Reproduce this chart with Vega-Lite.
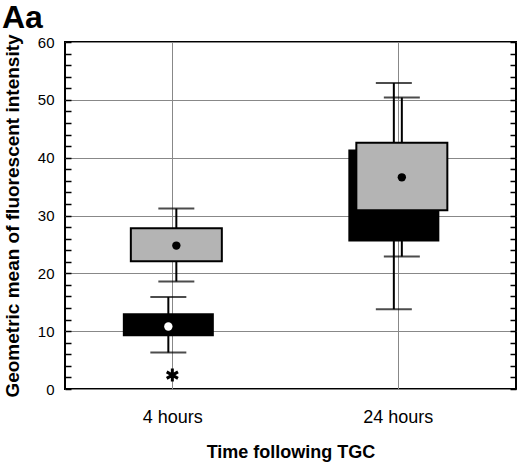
{
  "$schema": "https://vega.github.io/schema/vega-lite/v6.json",
  "width": 451,
  "height": 347,
  "autosize": "none",
  "padding": {"left": 65, "top": 42, "right": 4, "bottom": 76},
  "title": {
    "text": "Aa",
    "anchor": "start",
    "frame": "group",
    "dx": -63,
    "dy": 26,
    "fontSize": 32,
    "fontWeight": "bold",
    "color": "black",
    "baseline": "alphabetic",
    "offset": 0
  },
  "data": {
    "values": [
      {"time": "4 hours", "series": "Series 1", "lo": 6.3, "q1": 9.1, "q3": 13.1, "hi": 15.9, "mean": 10.8, "outlier": 2.4},
      {"time": "4 hours", "series": "Series 2", "lo": 18.6, "q1": 22.1, "q3": 27.8, "hi": 31.2, "mean": 24.8, "outlier": null},
      {"time": "24 hours", "series": "Series 1", "lo": 13.8, "q1": 25.5, "q3": 41.4, "hi": 52.9, "mean": 33.5, "outlier": null},
      {"time": "24 hours", "series": "Series 2", "lo": 22.9, "q1": 30.9, "q3": 42.6, "hi": 50.4, "mean": 36.6, "outlier": null}
    ]
  },
  "encoding": {
    "x": {
      "field": "time",
      "type": "nominal",
      "sort": ["4 hours", "24 hours"],
      "scale": {"type": "point", "padding": 0.5, "align": 0.476},
      "axis": {
        "title": "Time following TGC",
        "labelAngle": 0,
        "ticks": false,
        "domain": false,
        "grid": true,
        "gridColor": "#888888",
        "labelFontSize": 18,
        "labelPadding": 19,
        "titleFontSize": 18,
        "titleFontWeight": "bold",
        "titlePadding": 17
      }
    }
  },
  "layer": [
    {
      "transform": [{"filter": "datum.series === 'Series 1'"}],
      "mark": {"type": "rule", "color": "black", "strokeWidth": 2, "xOffset": -4},
      "encoding": {
        "y": {
          "field": "lo",
          "type": "quantitative",
          "scale": {"domain": [0, 60], "nice": false},
          "axis": {
            "title": "Geometric mean of fluorescent intensity",
            "values": [0, 2, 4, 6, 8, 10, 12, 14, 16, 18, 20, 22, 24, 26, 28, 30, 32, 34, 36, 38, 40, 42, 44, 46, 48, 50, 52, 54, 56, 58, 60],
            "labelExpr": "datum.value % 10 === 0 ? datum.label : ''",
            "labelOverlap": false,
            "labelFontSize": 15,
            "labelPadding": 17,
            "tickSize": -6,
            "tickColor": "black",
            "tickWidth": 1.5,
            "domain": false,
            "grid": true,
            "gridColor": {"condition": {"test": "datum.value % 10 === 0", "value": "#888888"}, "value": "transparent"},
            "titleFontSize": 19,
            "titleFontWeight": "bold",
            "titlePadding": 15
          }
        },
        "y2": {"field": "hi"}
      }
    },
    {
      "transform": [
        {"filter": "datum.series === 'Series 1'"},
        {"fold": ["lo", "hi"], "as": ["stat", "value"]}
      ],
      "mark": {"type": "tick", "color": "black", "size": 36, "thickness": 2, "xOffset": -4},
      "encoding": {
        "y": {
          "field": "value",
          "type": "quantitative",
          "scale": {"domain": [0, 60], "nice": false},
          "axis": {
            "orient": "right",
            "title": null,
            "labels": false,
            "values": [0, 2, 4, 6, 8, 10, 12, 14, 16, 18, 20, 22, 24, 26, 28, 30, 32, 34, 36, 38, 40, 42, 44, 46, 48, 50, 52, 54, 56, 58, 60],
            "tickSize": -6,
            "tickColor": "black",
            "tickWidth": 1.5,
            "domain": false,
            "grid": false
          }
        }
      }
    },
    {
      "transform": [{"filter": "datum.series === 'Series 1'"}],
      "mark": {"type": "bar", "color": "black", "width": 91, "xOffset": -4},
      "encoding": {
        "y": {"field": "q1", "type": "quantitative", "axis": null},
        "y2": {"field": "q3"}
      }
    },
    {
      "transform": [{"filter": "datum.series === 'Series 1'"}],
      "mark": {"type": "point", "filled": true, "color": "white", "opacity": 1, "size": 70, "xOffset": -4},
      "encoding": {
        "y": {"field": "mean", "type": "quantitative", "axis": null}
      }
    },
    {
      "transform": [{"filter": "datum.outlier != null"}],
      "mark": {
        "type": "point",
        "shape": "M0,-1V1M-0.866,-0.5L0.866,0.5M-0.866,0.5L0.866,-0.5",
        "filled": false,
        "color": "black",
        "strokeWidth": 3,
        "opacity": 1,
        "size": 169,
        "xOffset": 0
      },
      "encoding": {
        "y": {"field": "outlier", "type": "quantitative", "axis": null}
      }
    },
    {
      "transform": [{"filter": "datum.series === 'Series 2'"}],
      "mark": {"type": "rule", "color": "black", "strokeWidth": 2, "xOffset": 4},
      "encoding": {
        "y": {"field": "lo", "type": "quantitative", "axis": null},
        "y2": {"field": "hi"}
      }
    },
    {
      "transform": [
        {"filter": "datum.series === 'Series 2'"},
        {"fold": ["lo", "hi"], "as": ["stat", "value"]}
      ],
      "mark": {"type": "tick", "color": "black", "size": 36, "thickness": 2, "xOffset": 4},
      "encoding": {
        "y": {"field": "value", "type": "quantitative", "axis": null}
      }
    },
    {
      "transform": [{"filter": "datum.series === 'Series 2'"}],
      "mark": {"type": "bar", "fill": "#b4b4b4", "stroke": "black", "strokeWidth": 2, "width": 91, "xOffset": 4},
      "encoding": {
        "y": {"field": "q1", "type": "quantitative", "axis": null},
        "y2": {"field": "q3"}
      }
    },
    {
      "transform": [{"filter": "datum.series === 'Series 2'"}],
      "mark": {"type": "point", "filled": true, "color": "black", "opacity": 1, "size": 70, "xOffset": 4},
      "encoding": {
        "y": {"field": "mean", "type": "quantitative", "axis": null}
      }
    }
  ],
  "resolve": {"axis": {"y": "independent"}},
  "config": {
    "font": "Liberation Sans",
    "view": {"stroke": "black", "strokeWidth": 2},
    "axis": {"labelColor": "black", "titleColor": "black", "labelFont": "Liberation Sans", "titleFont": "Liberation Sans"}
  }
}
